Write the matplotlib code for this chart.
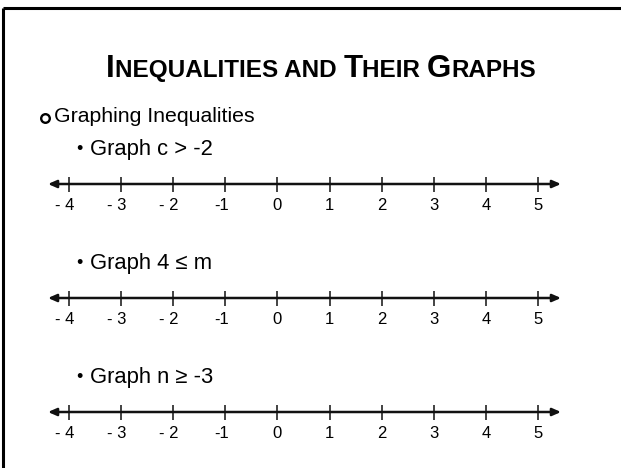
import matplotlib
matplotlib.use("Agg")
import matplotlib.pyplot as plt

plt.rcParams['font.family'] = ['Liberation Sans', 'DejaVu Sans']

# slide text
title_parts = [("I", True), ("NEQUALITIES AND ", False), ("T", True), ("HEIR ", False),
               ("G", True), ("RAPHS", False)]
heading = "Graphing Inequalities"
items = ["Graph c > -2", "Graph 4 \u2264 m", "Graph n \u2265 -3"]

# number line values
ticks = [-4, -3, -2, -1, 0, 1, 2, 3, 4, 5]
tick_labels = ["- 4", "- 3", "- 2", "-1", "0", "1", "2", "3", "4", "5"]

W, H = 621, 468
fig = plt.figure(figsize=(W / 100, H / 100), dpi=100)
bg = fig.add_axes([0, 0, 1, 1])
bg.set_xlim(0, W)
bg.set_ylim(H, 0)
bg.axis("off")

# slide frame (top and left edges only)
bg.plot([3, W], [8, 8], color="black", lw=2.2, solid_capstyle="butt")
bg.plot([3, 3], [8, H], color="black", lw=2.2, solid_capstyle="butt")

# small-caps title, fitted to the slide width
renderer = fig.canvas.get_renderer()
big, small = 22.5, 17.5
pieces = []
for txt, is_big in title_parts:
    t = bg.text(0, 77, txt, fontsize=big if is_big else small, fontweight="bold",
                va="baseline", ha="left")
    pieces.append(t)
widths = [p.get_window_extent(renderer).width for p in pieces]
x = 321 - sum(widths) / 2
for p, w in zip(pieces, widths):
    p.set_x(x)
    x += w

# heading with hollow ring bullet
bg.plot(45, 118, marker="o", ms=6.2, mfc="white", mec="black", mew=1.7)
bg.text(54, 117, heading, fontsize=15.3, va="center", ha="left")

item_y = [150, 264, 378]
line_y = [184, 298, 412]
for txt, y in zip(items, item_y):
    bg.text(76, y, "\u2022", fontsize=13, va="center", ha="left")
    bg.text(90, y, txt, fontsize=15.8, va="center", ha="left")

# number lines: tick -4 at px 69, spacing 52.1 px
x0_px, step = 69, 52.1
ax_l, ax_r = 40, 570
lo = ticks[0] + (ax_l - x0_px) / step
hi = ticks[0] + (ax_r - x0_px) / step
left_end = ticks[0] + (48 - x0_px) / step
right_end = ticks[0] + (561 - x0_px) / step

for ly in line_y:
    ax = fig.add_axes([ax_l / W, 1 - (ly + 30) / H, (ax_r - ax_l) / W, 60 / H])
    ax.set_xlim(lo, hi)
    ax.set_ylim(-30, 30)
    ax.axis("off")
    ax.annotate("", xy=(right_end, 0), xytext=(left_end, 0),
                arrowprops=dict(arrowstyle="<|-|>,head_length=0.5,head_width=0.22",
                                color="#111111", lw=1.8, shrinkA=0, shrinkB=0))
    ax.vlines(ticks, -7.5, 7.5, color="#111111", lw=1.1)
    for t, lab in zip(ticks, tick_labels):
        xo = -0.08 if lab.startswith("-") else 0
        ax.text(t + xo, -21, lab, fontsize=12, ha="center", va="center")

fig.savefig("out.png", dpi=100)
